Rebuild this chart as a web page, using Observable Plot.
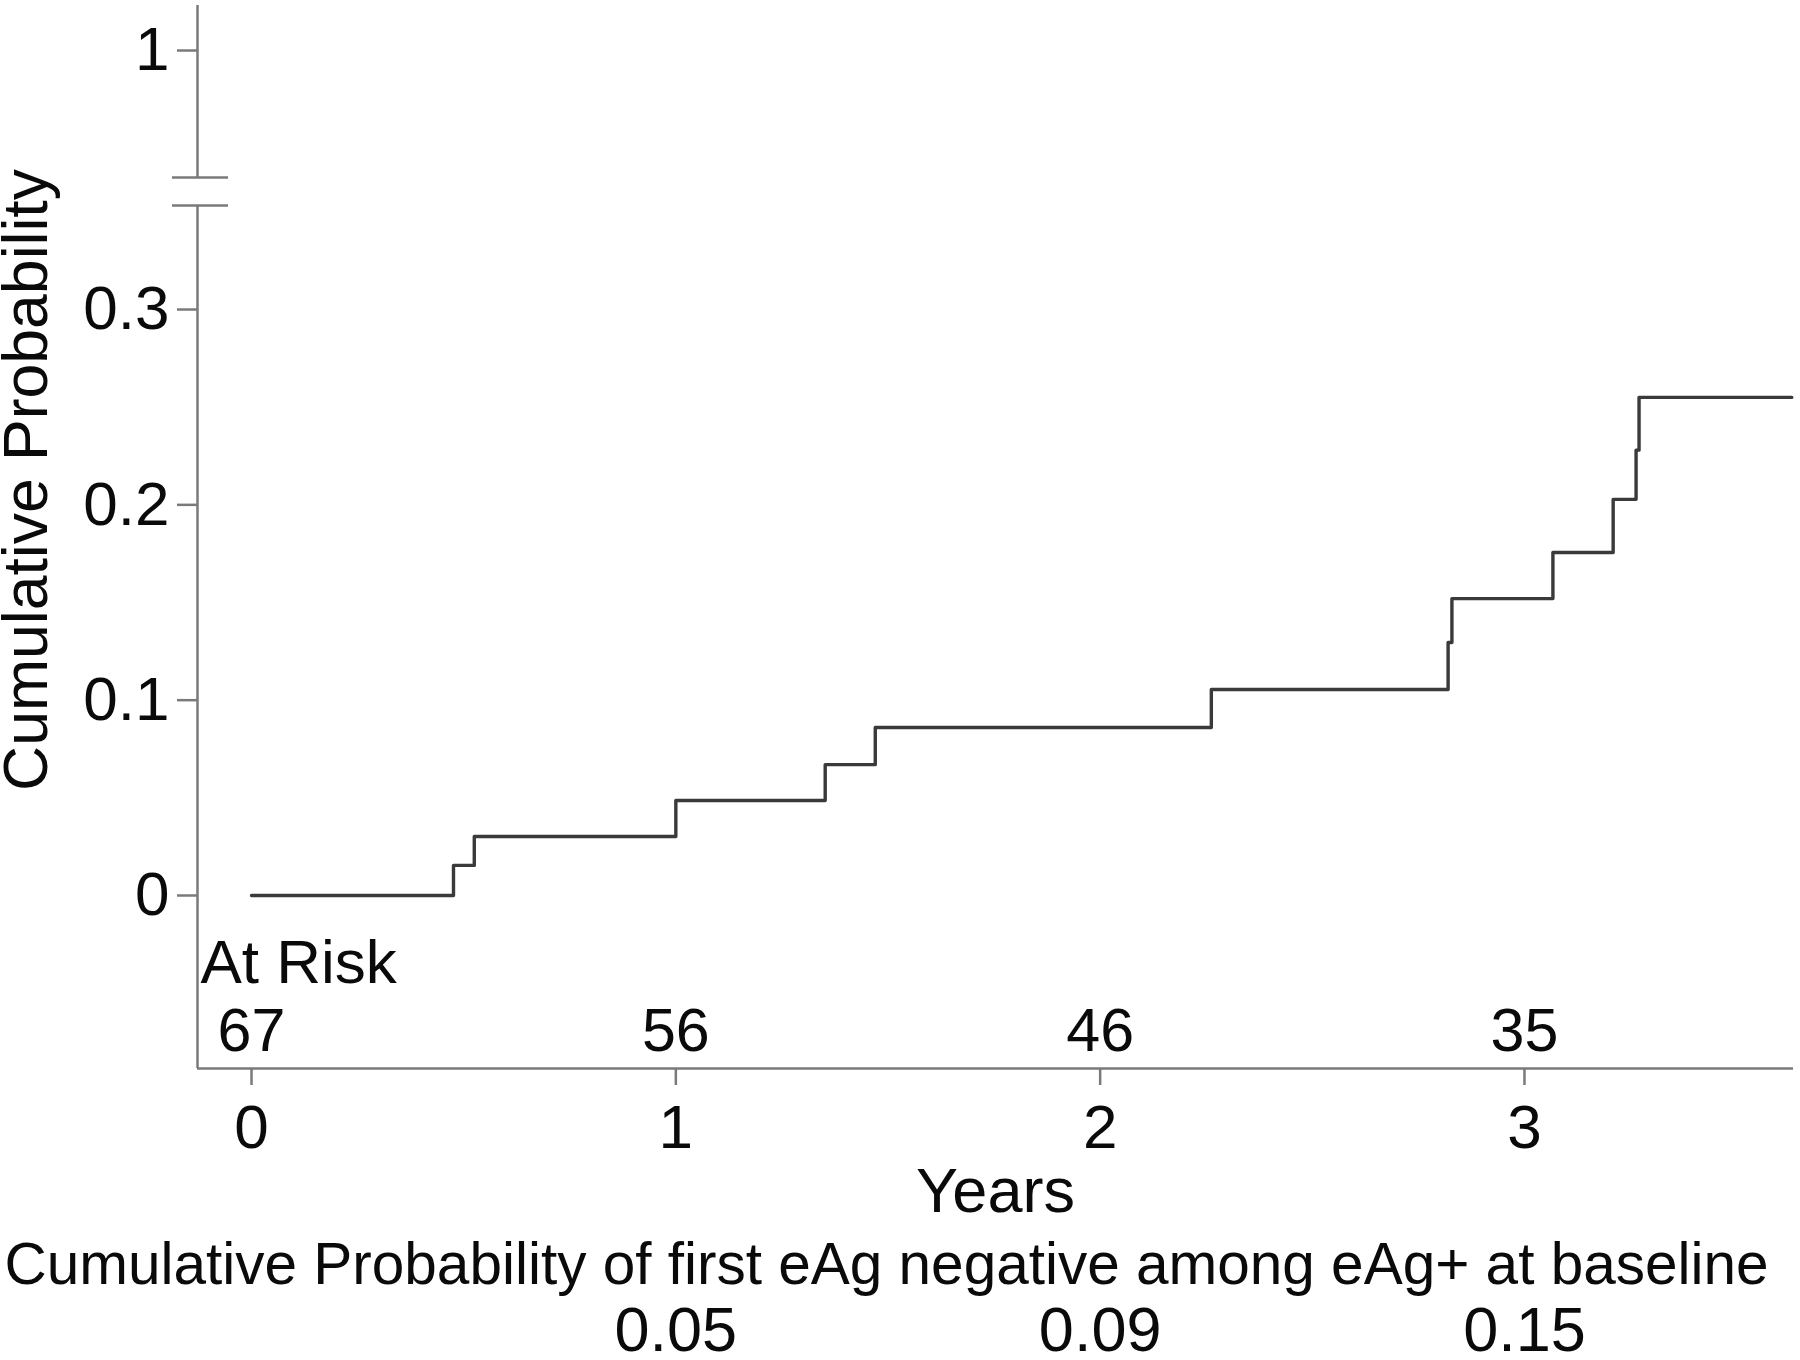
<!DOCTYPE html>
<html><head><meta charset="utf-8">
<script src="https://cdn.jsdelivr.net/npm/d3@7"></script>
<script src="https://cdn.jsdelivr.net/npm/@observablehq/plot@0.6"></script>
<style>html,body{margin:0;padding:0;background:#fff}</style>
</head><body><div id="chart"></div>
<script>
// Kaplan–Meier style cumulative probability
const years   = [0, 0.476, 0.525, 1.0, 1.352, 1.47, 2.262, 2.82, 2.829, 3.067, 3.209, 3.263, 3.27, 3.63];
const cumProb = [0, 0.0154, 0.0302, 0.0486, 0.067, 0.086, 0.1055, 0.1295, 0.152, 0.1756, 0.2028, 0.228, 0.255, 0.255];

const yTicks = [0, 0.1, 0.2, 0.3, 1];
const xTicks = [0, 1, 2, 3];

const atRiskYears  = [0, 1, 2, 3];
const atRiskCounts = [67, 56, 46, 35];

const cumYears  = [1, 2, 3];
const cumValues = ["0.05", "0.09", "0.15"];

const yTitle = "Cumulative Probability";
const xTitle = "Years";
const atRiskLabel = "At Risk";
const caption = "Cumulative Probability of first eAg negative among eAg+ at baseline";

// broken y axis: values up to 0.3 are drawn as is, the value 1 sits just above the break
const breakAt = 0.3;
const oneShown = 0.4326;
const brokenY = v => (v <= breakAt ? v : oneShown);
const yBreak = [0.3532, 0.3676];      // the two break strokes
const xDom = [-0.1273, 3.634];
const yDom = [-0.08857, 0.45564];

const axisGray = "#7a7a7a";
const ink = "#0a0a0a";
const font = "'Liberation Sans', Arial, Helvetica, sans-serif";

const kmData = years.map((t, i) => ({t, p: cumProb[i]}));

const chart = Plot.plot({
  width: 1800, height: 1360,
  marginLeft: 197, marginRight: 7, marginTop: 5, marginBottom: 292,
  style: {fontFamily: font, fontSize: "60px", color: ink, background: "#fff"},
  x: {domain: xDom, label: null},
  y: {domain: yDom, label: null},
  marks: [
    // left axis line with break
    Plot.ruleX([{y1: yDom[0], y2: yBreak[0]}, {y1: yBreak[1], y2: yDom[1]}],
      {x: () => xDom[0], y1: "y1", y2: "y2", stroke: axisGray, strokeWidth: 2.5}),
    Plot.ruleY(yBreak, {x1: -0.1862, x2: -0.0542, stroke: axisGray, strokeWidth: 2.5}),
    // bottom axis line
    Plot.ruleY([yDom[0]], {stroke: axisGray, strokeWidth: 2.5}),
    Plot.axisY(yTicks.map(brokenY), {tickSize: 20, tickPadding: 8,
      tickFormat: (d, i) => String(yTicks[i]),
      stroke: axisGray, strokeWidth: 2.5, fill: ink, fontSize: 62, label: null}),
    Plot.axisX(xTicks, {tickSize: 17, tickPadding: 18, tickFormat: d => String(d),
      stroke: axisGray, strokeWidth: 2.5, fill: ink, fontSize: 62, label: null}),
    // curve
    Plot.line(kmData, {x: "t", y: d => brokenY(d.p), curve: "step-after", stroke: "#3a3a3a", strokeWidth: 3.4}),
    // at risk table
    Plot.text([atRiskLabel], {frameAnchor: "bottom-left", textAnchor: "start", lineAnchor: "bottom",
      dx: 3, dy: -86, fontSize: 62, fill: ink}),
    Plot.text(atRiskYears, {x: d => d, text: (d, i) => String(atRiskCounts[i]),
      frameAnchor: "bottom", lineAnchor: "bottom", dy: -18, fontSize: 61, fill: ink}),
    // axis titles
    Plot.text([xTitle], {frameAnchor: "bottom", lineAnchor: "bottom", dy: 143, fontSize: 63, fill: ink}),
    Plot.text([yTitle], {frameAnchor: "left", textAnchor: "middle", rotate: -90, lineAnchor: "middle",
      dx: -171, dy: -57, fontSize: 62.5, fill: ink}),
    // caption + cumulative values
    Plot.text([caption], {frameAnchor: "bottom", lineAnchor: "bottom", dx: -109, dy: 215, fontSize: 58.5, fill: ink}),
    Plot.text(cumYears, {x: d => d, text: (d, i) => cumValues[i],
      frameAnchor: "bottom", lineAnchor: "bottom", dy: 282, fontSize: 63, fill: ink})
  ]
});
document.getElementById("chart").appendChild(chart);
</script>
</body></html>
